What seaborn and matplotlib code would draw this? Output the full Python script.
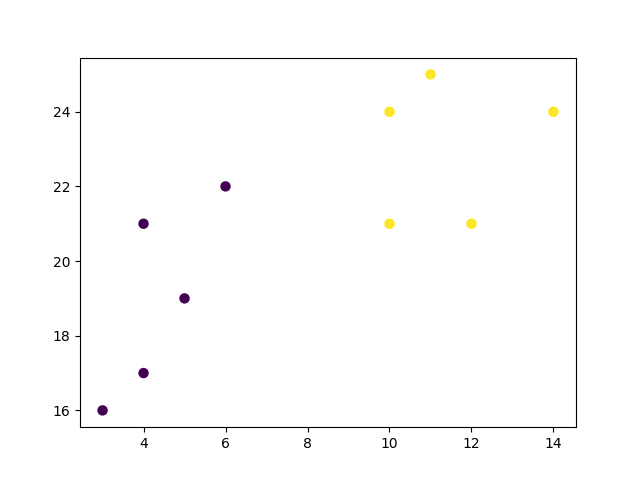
import matplotlib
matplotlib.use("Agg")
import matplotlib.pyplot as plt
import pandas as pd
import seaborn as sns

x = [4, 5, 10, 4, 3, 11, 14, 6, 10, 12]
y = [21, 19, 24, 17, 16, 25, 24, 22, 21, 21]
labels = [0, 0, 1, 0, 0, 1, 1, 0, 1, 1]

df = pd.DataFrame({"x": x, "y": y, "label": labels})

fig, ax = plt.subplots(figsize=(6.4, 4.8), dpi=100)
sns.scatterplot(data=df, x="x", y="y", hue="label",
                palette={0: "#440154", 1: "#fde725"},
                s=36, edgecolor="face", linewidth=1.5, legend=False, ax=ax)
ax.set_xlabel("")
ax.set_ylabel("")
ax.set_xticks([4, 6, 8, 10, 12, 14])
ax.set_yticks([16, 18, 20, 22, 24])

plt.savefig("out.png", dpi=100)
plt.close()
